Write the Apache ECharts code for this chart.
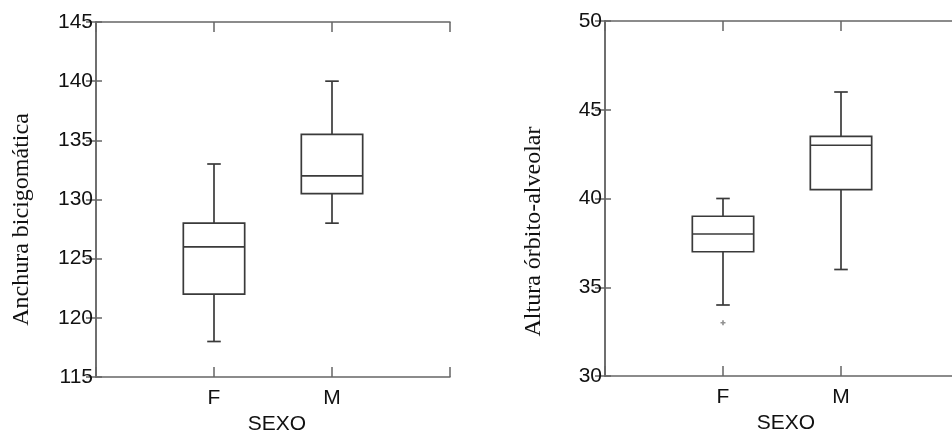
<!DOCTYPE html>
<html>
<head>
<meta charset="utf-8">
<script src="https://cdn.jsdelivr.net/npm/echarts@6/dist/echarts.min.js"></script>
<style>
  html, body { margin: 0; padding: 0; background: #fff; }
  #chart { width: 952px; height: 432px; }
</style>
</head>
<body>
<div id="chart"></div>
<script>
// datos: [min, Q1, mediana, Q3, max]
const sexo = ['F', 'M'];
const anchuraF = [118, 122, 126, 128, 133];
const anchuraM = [128, 130.5, 132, 135.5, 140];
const alturaF = [34, 37, 38, 39, 40];
const alturaM = [36, 40.5, 43, 43.5, 46];
const alturaAtipicos = [['F', 33]];
const ticksAnchura = [115, 120, 125, 130, 135, 140, 145];
const ticksAltura = [30, 35, 40, 45, 50];

const lineColor = '#666';
const boxColor = '#3a3a3a';
const textColor = '#111';
const sansFont = '"Liberation Sans", Arial, Helvetica, sans-serif';
const serifFont = '"Liberation Serif", "Times New Roman", serif';

const chart = echarts.init(document.getElementById('chart'));

// caja de bigotes estilo matlab (tapas cortas)
function renderBox(params, api) {
  const x = api.value(0);
  const v = [1, 2, 3, 4, 5].map((i) => api.value(i));
  const half = api.size([0.52, 0])[0] / 2;
  const cap = api.size([0.115, 0])[0] / 2;
  const p = v.map((val) => api.coord([x, val]));
  const cx = p[0][0];
  const st = { stroke: boxColor, lineWidth: 1.7, fill: null };
  return {
    type: 'group',
    children: [
      { type: 'line', shape: { x1: cx, y1: p[0][1], x2: cx, y2: p[1][1] }, style: st },
      { type: 'line', shape: { x1: cx, y1: p[3][1], x2: cx, y2: p[4][1] }, style: st },
      { type: 'line', shape: { x1: cx - cap, y1: p[0][1], x2: cx + cap, y2: p[0][1] }, style: st },
      { type: 'line', shape: { x1: cx - cap, y1: p[4][1], x2: cx + cap, y2: p[4][1] }, style: st },
      { type: 'rect', shape: { x: cx - half, y: p[3][1], width: half * 2, height: p[1][1] - p[3][1] }, style: st },
      { type: 'line', shape: { x1: cx - half, y1: p[2][1], x2: cx + half, y2: p[2][1] }, style: st },
    ],
  };
}

function xAxes(gridIndex) {
  const base = {
    type: 'value',
    gridIndex: gridIndex,
    min: 0,
    max: 3,
    interval: 1,
    splitLine: { show: false },
    axisLine: { show: true, lineStyle: { color: lineColor, width: 1.5 } },
    axisTick: { show: true, inside: true, length: 10, lineStyle: { color: lineColor, width: 1.5 } },
  };
  return [
    Object.assign({}, base, {
      position: 'bottom',
      name: 'SEXO',
      nameLocation: 'middle',
      nameGap: 30,
      nameTextStyle: { fontFamily: sansFont, fontSize: 21, color: textColor, padding: [0, 0, 0, 8] },
      axisLabel: {
        margin: 11,
        fontFamily: sansFont,
        fontSize: 21,
        color: textColor,
        formatter: (val) => sexo[val - 1] || '',
      },
    }),
    Object.assign({}, base, { position: 'top', axisLabel: { show: false } }),
  ];
}

function yAxes(gridIndex, ticks, name, shift, gap) {
  const base = {
    type: 'value',
    gridIndex: gridIndex,
    min: ticks[0],
    max: ticks[ticks.length - 1],
    interval: ticks[1] - ticks[0],
    splitLine: { show: false },
    axisLine: { show: true, lineStyle: { color: lineColor, width: 1.5 } },
  };
  return [
    Object.assign({}, base, {
      position: 'left',
      name: name,
      nameLocation: 'middle',
      nameRotate: 90,
      nameGap: gap,
      nameTextStyle: {
        fontFamily: serifFont,
        fontSize: 24,
        color: '#111',
        padding: [0, shift * 2, 0, 0],
      },
      axisTick: { show: true, inside: true, length: 6, lineStyle: { color: lineColor, width: 1.5 } },
      axisLabel: { margin: 3, fontFamily: sansFont, fontSize: 21, color: textColor },
    }),
    Object.assign({}, base, {
      position: 'right',
      axisTick: { show: true, inside: true, length: 10, lineStyle: { color: lineColor, width: 1.5 } },
      axisLabel: { show: false },
    }),
  ];
}

chart.setOption({
  backgroundColor: '#fff',
  animation: false,
  grid: [
    { left: 96, top: 22, width: 354, height: 355, outerBoundsMode: 'none', containLabel: false },
    { left: 605, top: 21, width: 354, height: 355, outerBoundsMode: 'none', containLabel: false },
  ],
  xAxis: xAxes(0).concat(xAxes(1)),
  yAxis: yAxes(0, ticksAnchura, 'Anchura bicigomática', 20, 62).concat(
    yAxes(1, ticksAltura, 'Altura órbito-alveolar', 33, 59)
  ),
  series: [
    {
      type: 'custom',
      xAxisIndex: 0,
      yAxisIndex: 0,
      renderItem: renderBox,
      encode: { x: 0, y: [1, 2, 3, 4, 5] },
      data: [[1].concat(anchuraF), [2].concat(anchuraM)],
    },
    {
      type: 'custom',
      xAxisIndex: 2,
      yAxisIndex: 2,
      renderItem: renderBox,
      encode: { x: 0, y: [1, 2, 3, 4, 5] },
      data: [[1].concat(alturaF), [2].concat(alturaM)],
    },
    {
      type: 'scatter',
      xAxisIndex: 2,
      yAxisIndex: 2,
      symbol: 'path://M1,0H2V1H3V2H2V3H1V2H0V1H1Z',
      symbolSize: 5,
      itemStyle: { color: '#777' },
      data: alturaAtipicos.map((d) => [sexo.indexOf(d[0]) + 1, d[1]]),
    },
  ],
});
</script>
</body>
</html>
